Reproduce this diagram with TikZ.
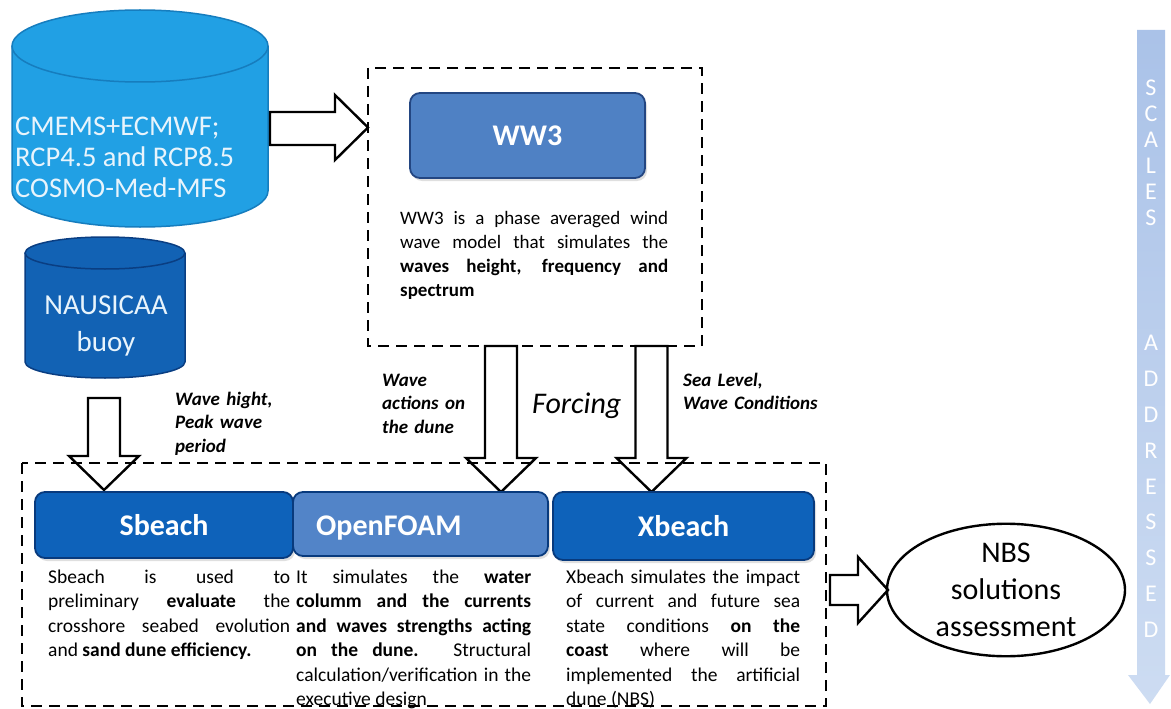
\documentclass[tikz,border=0pt]{standalone}
\usepackage{fontspec}
\setmainfont{Carlito}
\usetikzlibrary{shadows,shapes.geometric}
\definecolor{cylA}{RGB}{33,160,228}
\definecolor{cylAb}{RGB}{22,125,190}
\definecolor{cylB}{RGB}{18,98,180}
\definecolor{cylBb}{RGB}{10,62,130}
\definecolor{wwfill}{RGB}{79,129,196}
\definecolor{wwline}{RGB}{35,70,130}
\definecolor{darkfill}{RGB}{14,98,186}
\definecolor{darkline}{RGB}{8,58,125}
\definecolor{midfill}{RGB}{82,132,200}
\definecolor{scaltop}{RGB}{170,194,232}
\definecolor{scalbot}{RGB}{205,220,242}
\definecolor{pale}{RGB}{232,244,252}
\newcommand{\downblock}[3]{%
 \draw[blk] ({#1-16},{-#2}) -- ({#1-16},{-(#3-34)}) -- ({#1-35},{-(#3-34)}) -- (#1,{-#3})
   -- ({#1+35},{-(#3-34)}) -- ({#1+16},{-(#3-34)}) -- ({#1+16},{-#2}) -- cycle;}
\begin{document}
\begin{tikzpicture}[x=1pt,y=1pt,
  blk/.style={draw=black, fill=white, line width=2.4pt, line join=miter},
  dbox/.style={draw=black, line width=2.6pt, dash pattern=on 11pt off 7pt},
  model/.style={rounded corners=10pt, line width=1.8pt, text=white, inner sep=0pt,
     font=\bfseries\fontsize{30}{30}\selectfont,
     drop shadow={shadow xshift=2pt, shadow yshift=-3pt, opacity=0.25}},
  desc/.style={anchor=base west, inner sep=0pt, align=justify, font=\fontsize{19.5}{24.5}\selectfont},
  lbl/.style={anchor=base west, inner sep=0pt, align=left, text width=170pt, font=\bfseries\itshape\fontsize{19}{23.5}\selectfont}]
\useasboundingbox (0,0) rectangle (1171,-709);

% ---- CMEMS cylinder
\fill[cylA] (12,-46) -- (12,-191) arc[start angle=180,end angle=360,x radius=128,y radius=36] -- (268,-46) -- cycle;
\draw[cylAb, line width=1.5pt] (12,-46) -- (12,-191) arc[start angle=180,end angle=360,x radius=128,y radius=36] -- (268,-46);
\draw[cylAb, fill=cylA, line width=1.5pt] (140,-46) ellipse [x radius=128, y radius=36];
\node[anchor=west, inner sep=0pt, align=left, text=pale, font=\fontsize{28.5}{31}\selectfont] (cmems) at (15,-157)
  {CMEMS+ECMWF;\\RCP4.5 and RCP8.5\\COSMO-Med-MFS};

% ---- NAUSICAA cylinder
\fill[cylB] (25,-253) -- (25,-362) arc[start angle=180,end angle=360,x radius=80,y radius=16] -- (185,-253) -- cycle;
\draw[cylBb, line width=1.5pt] (25,-253) -- (25,-362) arc[start angle=180,end angle=360,x radius=80,y radius=16] -- (185,-253);
\draw[cylBb, fill=cylB, line width=1.5pt] (105,-253) ellipse [x radius=80, y radius=16];
\node[inner sep=0pt, align=center, text=pale, font=\fontsize{29}{37}\selectfont] (buoy) at (106,-326)
  {NAUSICAA\\buoy};

% ---- right block arrow to WW3 frame
\draw[blk] (270,-112) -- (335,-112) -- (335,-95) -- (368,-127.5) -- (335,-160) -- (335,-145) -- (270,-145) -- cycle;

% ---- WW3
\node[model, draw=wwline, fill=wwfill, minimum width=235pt, minimum height=85pt] (ww3) at (527.5,-135.5) {WW3};
\node[desc, text width=268pt, font=\fontsize{19}{24}\selectfont] (ww3txt) at (400,-224)
  {WW3 is a phase averaged wind\linebreak wave model that simulates the\linebreak \textbf{waves height, frequency and}\linebreak \textbf{spectrum}};

% ---- down block arrows
\downblock{501}{346}{492}
\downblock{651.5}{346}{492}
\downblock{104}{398}{490}

% ---- labels
\node[lbl] (lab1) at (175,-405) {Wave hight,\\Peak wave\\period};
\node[lbl] (lab2) at (382,-386) {Wave\\actions on\\the dune};
\node[lbl] (lab3) at (683,-386) {Sea Level,\\Wave Conditions};
\node[anchor=base west, inner sep=0pt, font=\itshape\fontsize{30}{30}\selectfont] (forcing) at (532,-413) {Forcing};

% ---- models
\node[model, draw=darkline, fill=darkfill, minimum width=258pt, minimum height=66pt] (sbeach) at (164,-525) {Sbeach};
\node[model, draw=darkline, fill=midfill, minimum width=255pt, minimum height=64pt] (openfoam) at (420.5,-524) {};
\node[anchor=base west, inner sep=0pt, text=white, font=\bfseries\fontsize{30}{30}\selectfont] (oflabel) at (316,-535) {OpenFOAM};
\node[model, draw=darkline, fill=darkfill, minimum width=261pt, minimum height=68pt] (xbeach) at (683.5,-526) {Xbeach};

\node[desc, text width=242pt] (sbtxt) at (48,-583)
  {Sbeach is used to\linebreak preliminary \textbf{evaluate} the\linebreak crosshore seabed evolution\linebreak and \textbf{sand dune efficiency.}};
\node[desc, text width=235pt] (oftxt) at (296,-583)
  {It simulates the \textbf{water}\linebreak \textbf{columm and the currents}\linebreak \textbf{and waves strengths acting}\linebreak \textbf{on the dune.} Structural\linebreak calculation/verification in the\linebreak executive design};
\node[desc, text width=234pt] (xbtxt) at (566,-583)
  {Xbeach simulates the impact\linebreak of current and future sea\linebreak state conditions \textbf{on the}\linebreak \textbf{coast} where will be\linebreak implemented the artificial\linebreak dune (NBS)};

% ---- dashed frames
\draw[dbox] (368,-68) rectangle (702,-346);
\draw[dbox] (22,-463) rectangle (826,-706);

% ---- NBS
\draw[blk] (830,-575) -- (858,-575) -- (858,-557) -- (888,-590) -- (858,-623) -- (858,-605) -- (830,-605) -- cycle;
\node[draw=black, line width=2.4pt, ellipse, minimum width=238pt, minimum height=130pt, inner sep=0pt, align=center,
  font=\fontsize{30}{37}\selectfont] (nbs) at (1006,-590) {NBS\\solutions\\assessment};

% ---- scales arrow
\shade[top color=scaltop, bottom color=scalbot] (1137,-30) -- (1165,-30) -- (1165,-675) -- (1170,-675) -- (1150,-704) -- (1128,-675) -- (1137,-675) -- cycle;
\foreach \l/\yy in {S/88,C/114,A/140,L/166,E/192,S/218,A/343,D/379,D/415,R/451,E/487,S/522,S/558,E/594,D/630}
  \node[text=white, inner sep=0pt, font=\fontsize{24}{24}\selectfont] at (1151,-\yy) {\l};
\end{tikzpicture}
\end{document}
